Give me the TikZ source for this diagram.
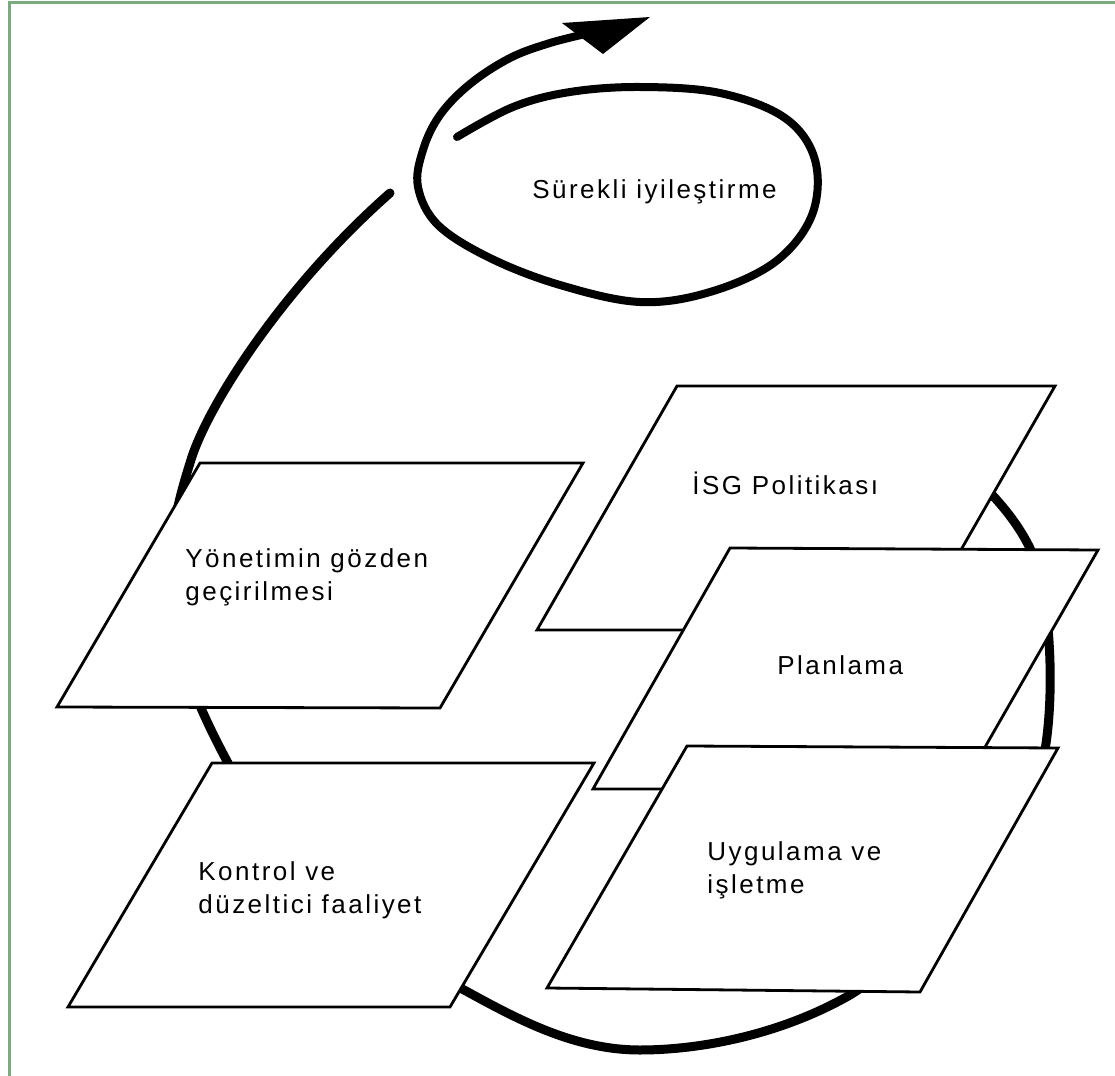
\documentclass[tikz,border=0pt]{standalone}
\usepackage{fontspec}
\setmainfont{Liberation Sans}[LetterSpace=9.5]
\definecolor{edgegreen}{RGB}{122,170,125}
\begin{document}
\begin{tikzpicture}[x=0.5pt,y=-0.5pt,
  sheet/.style={draw=black,line width=1.4pt,fill=white,line join=miter},
  loopline/.style={line width=4.5pt,line cap=round},
  spiralline/.style={line width=4pt,line cap=round},
  txt/.style={anchor=base west,inner sep=0pt,font=\fontsize{13}{16.5}\selectfont},
]
\useasboundingbox (0,0) rectangle (1115,1076);
\fill[white] (0,0) rectangle (1115,1076);
% page frame, left and top
\draw[edgegreen,line width=1.5pt] (9.5,1076) -- (9.5,2.5) -- (1115,2.5);

% large cycle running behind the sheets
\draw[loopline] (955,460) .. controls (985,485) and (1020,520) .. (1035,560)
  .. controls (1050,600) and (1055,690) .. (1045,750)
  .. controls (1030,800) and (940,940) .. (850,995)
  .. controls (780,1035) and (700,1050) .. (640,1050)
  .. controls (570,1050) and (510,1015) .. (455,985)
  .. controls (390,945) and (260,840) .. (228,763)
  .. controls (205,720) and (170,650) .. (170,580)
  .. controls (170,530) and (180,495) .. (190,463)
  .. controls (205,410) and (280,290) .. (390,193);

% continual improvement loop with arrow
\draw[spiralline] plot[smooth,tension=0.6] coordinates {(457,137) (513,107) (570,92) (640,87) (720,93) (785,118) (815,160) (812,215) (775,262) (710,292) (640,302) (560,285) (490,258) (438,225) (418,187) (423,150) (440,115) (470,84) (510,58) (550,43) (590,33)};
\fill (562,23) -- (650,17) -- (603,54) -- cycle;
\node[txt] (surekli) at (532,198) {Sürekli iyileştirme};

% sheets
\filldraw[sheet] (677,386) -- (1055,386) -- (915,630) -- (537,630) -- cycle;
\node[txt] (isg) at (692,494) {İSG Politikası};

\filldraw[sheet] (730,548) -- (1098,550) -- (961,789) -- (593,789) -- cycle;
\node[txt] (plan) at (777,674) {Planlama};

\filldraw[sheet] (687,746) -- (1058,748) -- (920,992) -- (547,988) -- cycle;
\node[txt] (uyg) at (707,860) {\begin{tabular}[t]{@{}l@{}}Uygulama ve\\işletme\end{tabular}};

\filldraw[sheet] (200,463) -- (583,463) -- (440,708) -- (57,707) -- cycle;
\node[txt] (yon) at (185,567) {\begin{tabular}[t]{@{}l@{}}Yönetimin gözden\\geçirilmesi\end{tabular}};

\filldraw[sheet] (212,763) -- (594,763) -- (450,1007) -- (68,1007) -- cycle;
\node[txt] (kon) at (198,880) {\begin{tabular}[t]{@{}l@{}}Kontrol ve\\düzeltici faaliyet\end{tabular}};
\end{tikzpicture}
\end{document}
